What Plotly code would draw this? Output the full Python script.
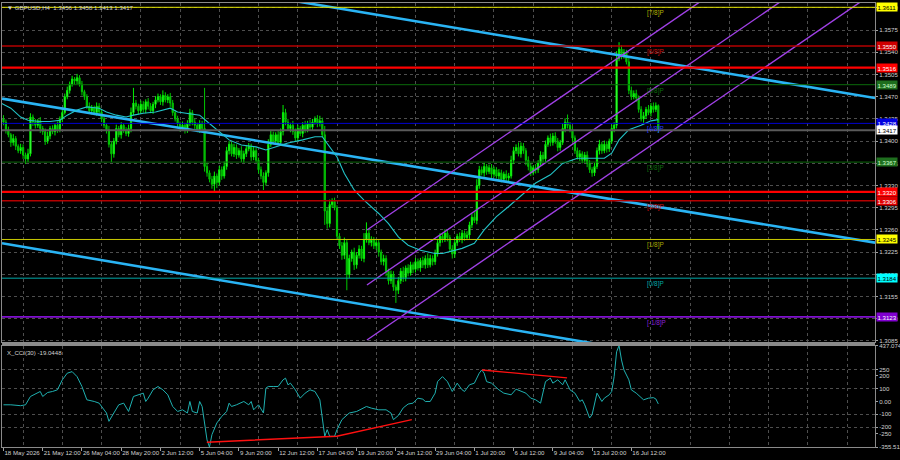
import plotly.graph_objects as go

# ---------------- DATA ----------------
BASE = 1.3000
PIP = 0.0001
first_open_pips = 435

# H4 closes, in pips above 1.3000
closes_pips = [
    430, 418, 410, 398, 404, 392, 385, 390, 378, 372, 380, 438, 430, 425, 432, 420, 415, 400, 408, 420,
    415, 425, 418, 435, 445, 470, 480, 490, 498, 495, 500, 490, 478, 470, 455, 448, 452, 445, 455, 446,
    435, 425, 418, 395, 380, 400, 420, 410, 425, 418, 412, 420, 445, 460, 455, 448, 458, 450, 462, 455,
    448, 458, 465, 470, 462, 472, 465, 470, 460, 445, 435, 428, 420, 425, 418, 428, 445, 430, 425, 418,
    428, 420, 360, 350, 340, 332, 345, 335, 355, 345, 360, 385, 395, 380, 390, 378, 385, 372, 380, 388,
    392, 375, 385, 370, 355, 345, 335, 350, 395, 410, 400, 410, 398, 415, 445, 430, 420, 425, 415, 405,
    420, 412, 425, 418, 428, 422, 430, 435, 428, 432, 410, 290, 270, 300, 305, 295, 250, 235, 220, 240,
    190, 215, 225, 205, 220, 230, 215, 245, 255, 240, 245, 235, 240, 225, 210, 215, 195, 180, 190, 170,
    165, 180, 195, 185, 200, 192, 205, 198, 210, 200, 212, 205, 215, 205, 215, 210, 222, 240, 250, 245,
    255, 248, 230, 222, 240, 250, 245, 255, 248, 252, 268, 280, 275, 330, 355, 350, 360, 352, 358, 348,
    355, 345, 350, 340, 348, 342, 345, 370, 385, 390, 380, 392, 385, 370, 360, 350, 358, 355, 365, 378,
    372, 395, 405, 398, 408, 400, 390, 398, 420, 430, 425, 418, 405, 385, 375, 380, 370, 378, 365, 355,
    350, 360, 385, 395, 385, 395, 388, 400, 420, 425, 530, 545, 535, 540, 525, 480, 470, 475, 468, 450,
    435, 440, 450, 445, 455, 450, 456, 417,
]
wick_up = [
    6, 4, 5, 3, 7, 4, 3, 6, 5, 4, 8, 6, 4, 5, 3, 6, 4, 5, 7, 4,
    5, 3, 6, 4, 8, 5, 6, 4, 5, 3, 6, 4, 5, 3, 4, 6, 5, 4, 6, 5,
    4, 5, 3, 6, 4, 5, 6, 4, 5, 3, 4, 6, 8, 24, 5, 4, 6, 5, 4, 6,
    5, 4, 6, 5, 4, 8, 5, 4, 6, 5, 4, 5, 3, 6, 4, 5, 6, 4, 5, 4,
    5, 4, 64, 6, 4, 5, 7, 4, 6, 5, 8, 6, 5, 4, 6, 5, 4, 7, 5, 6,
    5, 4, 6, 5, 4, 5, 6, 4, 8, 6, 5, 4, 6, 5, 12, 6, 5, 4, 7, 5,
    6, 4, 5, 7, 4, 6, 5, 4, 6, 8, 5, 14, 6, 8, 5, 6, 4, 5, 6, 8,
    5, 6, 4, 7, 5, 6, 5, 10, 17, 6, 5, 4, 6, 5, 4, 6, 5, 4, 6, 5,
    4, 6, 5, 7, 4, 6, 5, 4, 6, 5, 4, 6, 5, 8, 6, 5, 7, 6, 5, 4,
    6, 5, 4, 6, 5, 4, 6, 5, 4, 6, 5, 6, 8, 10, 6, 5, 6, 4, 5, 6,
    5, 4, 6, 5, 4, 6, 5, 7, 6, 5, 8, 6, 5, 4, 6, 5, 4, 6, 5, 6,
    5, 6, 4, 7, 5, 6, 5, 4, 8, 6, 12, 5, 6, 4, 5, 6, 4, 5, 6, 5,
    4, 6, 5, 7, 4, 6, 5, 4, 6, 5, 12, 11, 6, 5, 4, 8, 6, 5, 6, 4,
    5, 6, 4, 7, 5, 6, 5, 2,
]
wick_dn = [
    5, 6, 4, 7, 5, 6, 4, 5, 6, 8, 5, 4, 6, 5, 4, 7, 5, 6, 4, 5,
    4, 6, 5, 4, 5, 3, 4, 5, 4, 6, 5, 4, 6, 5, 4, 5, 6, 4, 5, 6,
    5, 4, 6, 5, 13, 6, 5, 4, 6, 5, 4, 5, 6, 4, 5, 6, 4, 5, 6, 5,
    4, 5, 6, 4, 5, 6, 4, 5, 6, 5, 4, 6, 5, 4, 6, 5, 4, 5, 6, 4,
    5, 6, 8, 6, 5, 7, 12, 9, 5, 6, 4, 5, 6, 4, 5, 6, 4, 5, 6, 5,
    4, 6, 5, 4, 6, 5, 12, 5, 6, 4, 5, 6, 4, 5, 6, 5, 4, 6, 5, 6,
    5, 4, 6, 5, 4, 6, 5, 4, 6, 5, 4, 22, 8, 6, 5, 4, 6, 5, 7, 6,
    25, 6, 5, 8, 6, 5, 4, 6, 5, 4, 6, 5, 6, 7, 5, 6, 8, 6, 5, 6,
    20, 6, 5, 7, 6, 5, 4, 6, 5, 4, 6, 5, 6, 5, 4, 6, 5, 4, 6, 5,
    4, 6, 5, 7, 6, 5, 4, 6, 5, 4, 6, 5, 4, 6, 5, 4, 6, 5, 4, 6,
    5, 4, 6, 5, 4, 6, 5, 4, 6, 5, 4, 6, 5, 8, 6, 5, 4, 6, 5, 4,
    6, 5, 4, 6, 5, 4, 6, 5, 4, 6, 5, 4, 6, 5, 4, 6, 5, 4, 6, 5,
    6, 5, 4, 6, 5, 4, 6, 5, 4, 6, 5, 4, 6, 5, 4, 6, 5, 4, 6, 5,
    4, 6, 5, 4, 6, 5, 4, 4,
]

# moving average (bar, pips above 1.3000)
ma_bars = [-1, 3, 7, 10, 15, 19, 23, 26, 30, 34, 39, 42, 46, 50, 53, 57, 62, 68, 71, 75, 80, 83, 87,
           90, 92, 97, 103, 107, 111, 116, 122, 127, 130, 133, 136, 139, 143, 147, 153, 157, 161, 165,
           170, 176, 179, 187, 192, 196, 201, 206, 212, 217, 223, 228, 234, 239, 245, 248, 251, 255,
           260, 264, 267]
ma_pips = [460, 452, 438, 433, 431, 431, 433, 441, 449, 454, 452, 446, 441, 438, 441, 444, 446, 452, 446,
           444, 441, 431, 418, 407, 402, 394, 391, 386, 391, 397, 402, 407, 407, 391, 375, 349, 323, 307,
           286, 270, 249, 236, 228, 223, 223, 231, 239, 260, 281, 297, 318, 334, 347, 365, 373, 373, 373,
           381, 402, 418, 425, 432, 434]

# X_CCI(30)
cci_bars = [0, 3, 7, 9, 11, 14, 15, 16, 18, 20, 22, 24, 26, 28, 30, 32, 34, 37, 39, 42, 43, 45, 47, 49,
            51, 53, 55, 57, 58, 59, 61, 63, 65, 67, 69, 71, 73, 75, 76, 77, 79, 80, 81, 83, 84, 85, 87,
            89, 91, 92, 93, 95, 98, 100, 101, 102, 104, 106, 107, 108, 110, 112, 114, 115, 116, 117, 119,
            121, 123, 125, 127, 129, 131, 132, 133, 135, 136, 138, 141, 144, 148, 150, 153, 156, 158, 159,
            161, 163, 165, 167, 169, 171, 172, 174, 176, 177, 179, 181, 183, 185, 187, 188, 190, 192, 194,
            195, 196, 197, 199, 202, 204, 207, 209, 211, 213, 215, 217, 219, 220, 221, 223, 224, 226, 228,
            229, 231, 233, 235, 236, 237, 239, 240, 242, 244, 245, 247, 248, 249, 250, 251, 252, 253, 255,
            256, 258, 261, 263, 265, 266, 267]
cci_vals = [-26, -26, -33, -26, 39, 65, 78, 39, 70, 78, 91, 169, 221, 233, 194, 117, 13, 0, -13, -90, -155,
            -90, -26, -13, -78, 39, 52, 65, 0, 26, 91, 117, 91, 52, -39, -78, -65, -90, 0, -78, -90, 0,
            -39, -300, -355.5113, -259, -168, -117, -78, -13, -39, -26, 0, -26, 0, -65, -26, -90, 104, 117,
            117, 117, 169, 182, 130, 143, 91, 26, 65, 91, 78, 13, -272, -220, -272, -272, -220, -142, -90,
            -78, -39, -52, -65, -65, -90, -142, -110, -50, -20, -13, 26, 18, 0, 0, 65, 155, 194, 155, 78,
            143, 91, 78, 130, 143, 221, 246, 221, 155, 143, 91, 65, 52, 96, 78, 65, 26, 13, -13, 65, 155,
            182, 143, 169, 130, 169, 91, 65, 0, 13, -26, -129, -103, 65, 0, 26, 52, 78, 194, 388, 437.0745,
            324, 246, 169, 91, 65, 13, 26, 30, 20, -19.0448]

# CCI divergence lines (bar, value)
cci_low_line_bars = [82.9, 135.9, 166.5]
cci_low_line_vals = [-318, -272, -142]
cci_high_line_bars = [195.1, 229.8]
cci_high_line_vals = [246, 184]

# descending channel (light blue), two anchors each
desc_lines = [
    ([100.0, 355.4], [1.3633, 1.3468]),
    ([-0.6, 355.4], [1.3467, 1.3240]),
    ([-0.6, 355.4], [1.3239, 1.3006]),
]
# ascending channel (purple), start anchor -> end anchor
asc_lines = [
    ([148.2, 355.4], [1.32600, 1.38087]),
    ([148.2, 355.4], [1.31733, 1.37220]),
    ([148.2, 355.4], [1.30866, 1.36353]),
]

# horizontal levels
level_prices = [1.3611, 1.3550, 1.3516, 1.3489, 1.3428, 1.3417, 1.3367, 1.3320, 1.3306, 1.3245, 1.3184, 1.3123]
level_names = ['[7/8]P', '[6/8]P', '', '[5/8]P', '[4/8]P', '', '[3/8]P', '', '[2/8]P', '[1/8]P', '[0/8]P', '[-1/8]P']

price_ticks = [1.3085, 1.3120, 1.3155, 1.3190, 1.3225, 1.3260, 1.3295, 1.3330, 1.3365, 1.3400,
               1.3435, 1.3470, 1.3505, 1.3540, 1.3575, 1.3610]
cci_ticks = [437.0745, 250, 200, 100, 0, -100, -200, -250, -355.5113]
cci_tick_text = ['437.0745', '250', '200', '100', '0.00', '-100', '-200', '-250', '-355.5113']
cci_grid = [250, 100, -100, -200]

time_labels = ['18 May 2026', '21 May 12:00', '26 May 04:00', '28 May 20:00', '2 Jun 12:00', '5 Jun 04:00',
               '9 Jun 20:00', '12 Jun 12:00', '17 Jun 04:00', '19 Jun 20:00', '24 Jun 12:00', '29 Jun 04:00',
               '1 Jul 20:00', '6 Jul 12:00', '9 Jul 04:00', '13 Jul 20:00', '16 Jul 12:00']
time_label_bars = [0, 16, 32, 48, 64, 80, 96, 112, 128, 144, 160, 176, 192, 208, 224, 240, 256]
vgrid_bars = [8, 24, 40, 56, 72, 88, 104, 120, 136, 152, 168, 184, 200, 216, 232, 248, 264, 280,
              296, 312, 328, 344]

# ---------------- STYLE ----------------
level_colors = ['#E6E600', '#B40000', '#FF0000', '#0B6B0B', '#0000D0', '#5A5A5A', '#0B6B0B', '#FF0000',
                '#B40000', '#C8C800', '#00A8A8', '#8010D0']
level_widths = [1, 1.6, 2.2, 1, 1, 2, 1, 2.2, 1.6, 1, 1, 1.6]
label_colors = ['#B4B400', '#D01010', '', '#0E6E0E', '#2A3CFF', '', '#0E6E0E', '', '#D01010', '#A8A800',
                '#00A8A8', '#8A20D8']
box_bg = ['#FFFF00', '#D00000', '#FF0000', '#1E6E1E', '#0000E0', '#FFFFFF', '#1E6E1E', '#FF0000',
          '#E00000', '#FFFF00', '#00FFFF', '#8000D0']
box_fg = ['#000000', '#FFFFFF', '#FFFFFF', '#D0FFD0', '#FFFFFF', '#000000', '#D0FFD0', '#FFFFFF',
          '#FFFFFF', '#000000', '#000000', '#FFFFFF']

FONT = 'Liberation Sans'
TXT = '#D0D0D0'
GRID = '#4E4E4E'
FS = 6.1

# ---------------- BUILD ----------------
n = len(closes_pips)
bars = list(range(n))
close = [BASE + c * PIP for c in closes_pips]
opens = [BASE + first_open_pips * PIP] + close[:-1]
high = [max(o, c) + w * PIP for o, c, w in zip(opens, close, wick_up)]
low = [min(o, c) - w * PIP for o, c, w in zip(opens, close, wick_dn)]

fig = go.Figure()

for xs, ys in desc_lines:
    fig.add_trace(go.Scatter(x=xs, y=ys, mode='lines', line=dict(color='#2AB4F4', width=2.6),
                             xaxis='x', yaxis='y', hoverinfo='skip', showlegend=False))
for xs, ys in asc_lines:
    fig.add_trace(go.Scatter(x=xs, y=ys, mode='lines', line=dict(color='#A040E6', width=1.4),
                             xaxis='x', yaxis='y', hoverinfo='skip', showlegend=False))

fig.add_trace(go.Candlestick(
    x=bars, open=opens, high=high, low=low, close=close,
    increasing=dict(line=dict(color='#00F000', width=1), fillcolor='#8CFF8C'),
    decreasing=dict(line=dict(color='#00C800', width=1), fillcolor='#12A012'),
    whiskerwidth=0, xaxis='x', yaxis='y', hoverinfo='skip', showlegend=False))

fig.add_trace(go.Scatter(x=ma_bars, y=[BASE + p * PIP for p in ma_pips], mode='lines',
                         line=dict(color='#22C4C8', width=1.1), xaxis='x', yaxis='y',
                         hoverinfo='skip', showlegend=False))

fig.add_trace(go.Scatter(x=cci_bars, y=cci_vals, mode='lines', line=dict(color='#1FB0B0', width=1),
                         xaxis='x2', yaxis='y2', hoverinfo='skip', showlegend=False))
fig.add_trace(go.Scatter(x=cci_low_line_bars, y=cci_low_line_vals, mode='lines',
                         line=dict(color='#FF1010', width=1.4), xaxis='x2', yaxis='y2',
                         hoverinfo='skip', showlegend=False))
fig.add_trace(go.Scatter(x=cci_high_line_bars, y=cci_high_line_vals, mode='lines',
                         line=dict(color='#FF1010', width=1.4), xaxis='x2', yaxis='y2',
                         hoverinfo='skip', showlegend=False))

shapes = []
annotations = []
for p, name, lc, lw, tc, bg, fg in zip(level_prices, level_names, level_colors, level_widths,
                                       label_colors, box_bg, box_fg):
    shapes.append(dict(type='line', xref='paper', x0=0, x1=1, yref='y', y0=p, y1=p,
                       line=dict(color=lc, width=lw), layer='above'))
    if name:
        annotations.append(dict(text=name, x=261.6, xref='x', y=p, yref='y', xanchor='left',
                                yanchor='top', yshift=0, showarrow=False,
                                font=dict(family=FONT, size=FS + 0.3, color=tc)))
    annotations.append(dict(text=f'{p:.4f}', x=1, xref='paper', y=p, yref='y', xanchor='left',
                            yanchor='middle', xshift=1, showarrow=False, bgcolor=bg, borderpad=0.5,
                            font=dict(family=FONT, size=FS, color=fg)))

# panel separator
shapes.append(dict(type='rect', xref='paper', yref='paper', x0=0, x1=1, y0=0.2286, y1=0.2365,
                   fillcolor='#8A8A8A', line=dict(width=0), layer='above'))

annotations.append(dict(
    text=f'▼ GBPUSD,H4  {opens[-1]:.4f} {high[-1]:.4f} {low[-1]:.4f} {close[-1]:.4f}',
    x=0, xref='paper', y=1, yref='paper', xanchor='left', yanchor='top', xshift=3, yshift=1,
    showarrow=False, font=dict(family=FONT, size=FS, color=TXT)))
annotations.append(dict(
    text=f'X_CCI(30) {cci_vals[-1]:.4f}', x=0, xref='paper', y=0.2286, yref='paper',
    xanchor='left', yanchor='top', xshift=3, yshift=-1, showarrow=False,
    font=dict(family=FONT, size=FS, color=TXT)))

xr = [-0.6, 355.36]
common_x = dict(range=xr, showgrid=False, zeroline=False, showline=True, mirror=True,
                linecolor='#8A8A8A', linewidth=1, automargin=False, fixedrange=True,
                minor=dict(tickmode='array', tickvals=vgrid_bars, showgrid=True, gridcolor=GRID,
                           griddash='3px,3px', gridwidth=1, ticks=''))

fig.update_layout(
    width=900, height=460, template='none',
    paper_bgcolor='#000000', plot_bgcolor='#000000',
    margin=dict(l=2, r=25, t=3, b=13),
    showlegend=False,
    xaxis=dict(domain=[0, 1], anchor='y', showticklabels=False, ticks='',
               rangeslider=dict(visible=False), **common_x),
    xaxis2=dict(domain=[0, 1], anchor='y2', matches='x', tickmode='array',
                tickvals=time_label_bars, ticktext=time_labels, ticks='outside', ticklen=3,
                tickcolor='#A0A0A0', ticklabelposition='outside right', tickangle=0,
                ticklabelstandoff=0,
                tickfont=dict(family=FONT, size=FS, color=TXT), **common_x),
    yaxis=dict(domain=[0.2365, 1], anchor='x', side='right', range=[1.308341, 1.361778],
               tickmode='array', tickvals=price_ticks, ticktext=[f'{t:.4f}' for t in price_ticks],
               ticks='outside', ticklen=2, tickcolor='#A0A0A0',
               tickfont=dict(family=FONT, size=FS, color=TXT),
               showgrid=True, gridcolor=GRID, griddash='3px,3px', gridwidth=1,
               zeroline=False, showline=True, mirror=True, linecolor='#8A8A8A',
               automargin=False, fixedrange=True),
    yaxis2=dict(domain=[0, 0.2286], anchor='x2', side='right', range=[-355.5113, 437.0745],
                tickmode='array', tickvals=cci_ticks, ticktext=cci_tick_text,
                ticks='outside', ticklen=2, tickcolor='#A0A0A0',
                tickfont=dict(family=FONT, size=FS, color=TXT),
                showgrid=False, zeroline=False, showline=True, mirror=True, linecolor='#8A8A8A',
                automargin=False, fixedrange=True,
                minor=dict(tickmode='array', tickvals=cci_grid, showgrid=True, gridcolor=GRID,
                           griddash='3px,3px', gridwidth=1, ticks='')),
    shapes=shapes,
    annotations=annotations,
)

fig.write_html('out.html', config={'displayModeBar': False, 'staticPlot': True},
               post_script="document.body.style.margin='0';document.body.style.overflow='hidden';")
